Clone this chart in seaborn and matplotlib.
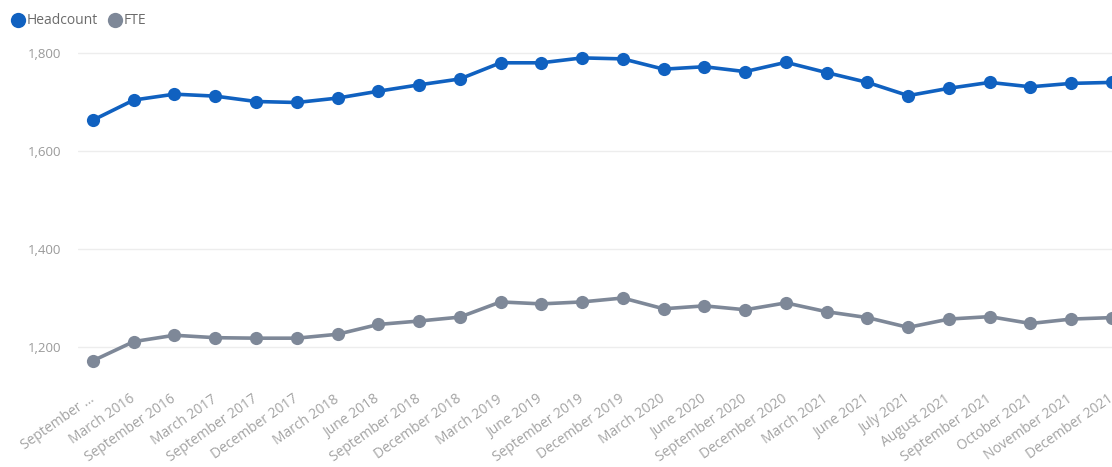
import matplotlib
matplotlib.use("Agg")
import matplotlib.pyplot as plt
from matplotlib.lines import Line2D
import pandas as pd
import seaborn as sns

periods = [
    "September …", "March 2016", "September 2016", "March 2017", "September 2017",
    "December 2017", "March 2018", "June 2018", "September 2018", "December 2018",
    "March 2019", "June 2019", "September 2019", "December 2019", "March 2020",
    "June 2020", "September 2020", "December 2020", "March 2021", "June 2021",
    "July 2021", "August 2021", "September 2021", "October 2021", "November 2021",
    "December 2021",
]
headcount = [1663, 1704, 1716, 1712, 1701, 1699, 1708, 1722, 1735, 1747,
             1780, 1780, 1790, 1788, 1767, 1772, 1762, 1781, 1760, 1740,
             1713, 1728, 1740, 1731, 1738, 1740]
fte = [1172, 1211, 1224, 1219, 1218, 1218, 1226, 1246, 1253, 1261,
       1292, 1288, 1292, 1300, 1278, 1284, 1276, 1290, 1272, 1260,
       1240, 1257, 1262, 1248, 1257, 1260]
series_names = ["Headcount", "FTE"]
y_ticks = [1200, 1400, 1600, 1800]

colors = {"Headcount": "#1061C0", "FTE": "#7E8898"}

df = pd.DataFrame({
    "idx": list(range(len(periods))) * 2,
    "period": periods * 2,
    "value": headcount + fte,
    "series": [series_names[0]] * len(periods) + [series_names[1]] * len(periods),
})

sns.set_theme(style="white")
plt.rcParams["font.family"] = ["Open Sans", "DejaVu Sans"]

fig = plt.figure(figsize=(11.12, 4.67), dpi=100)
W, H = 1112, 467
ax_left, ax_right, ax_top, ax_bottom = 78, 1112, 35, 370
ax = fig.add_axes([ax_left / W, 1 - ax_bottom / H,
                   (ax_right - ax_left) / W, (ax_bottom - ax_top) / H])

sns.lineplot(data=df, x="idx", y="value", hue="series", palette=colors,
             hue_order=series_names, sort=False, marker="o", markersize=9.5,
             markeredgewidth=0, linewidth=2.6, ax=ax, legend=False)

# Category axis: one slot per reporting period
step = 40.9
ax.set_xlim(-15 / step, (ax_right - ax_left - 15) / step)
px_per_unit = 98 / 200
ax.set_ylim(1800 - (ax_bottom - 53) / px_per_unit, 1800 + (53 - ax_top) / px_per_unit)

ax.set_xticks(range(len(periods)))
ax.set_xticklabels(periods, rotation=35, ha="right", va="center",
                   rotation_mode="anchor", fontsize=10, color="#A3A3A3")
ax.set_yticks(y_ticks)
ax.set_yticklabels([f"{v:,}" for v in y_ticks], fontsize=9.5, color="#9A9A9A")
ax.tick_params(axis="x", length=0, pad=20)
ax.tick_params(axis="y", length=0, pad=12)
ax.grid(axis="y", color="#EDEDED", linewidth=1)
ax.grid(axis="x", visible=False)
ax.set_xlabel("")
ax.set_ylabel("")
for s in ax.spines.values():
    s.set_visible(False)

handles = [Line2D([], [], linestyle="none", marker="o", markersize=11,
                  markerfacecolor=colors[n], markeredgewidth=0) for n in series_names]
fig.legend(handles, series_names, loc="center left",
           bbox_to_anchor=(13 / W, 1 - 21 / H), ncol=2, frameon=False,
           handlelength=0.75, handletextpad=0.2, columnspacing=0.9,
           borderaxespad=0, borderpad=0, prop={"size": 10}, labelcolor="#6B6B6B")

fig.savefig("out.png", dpi=100, facecolor="white")
